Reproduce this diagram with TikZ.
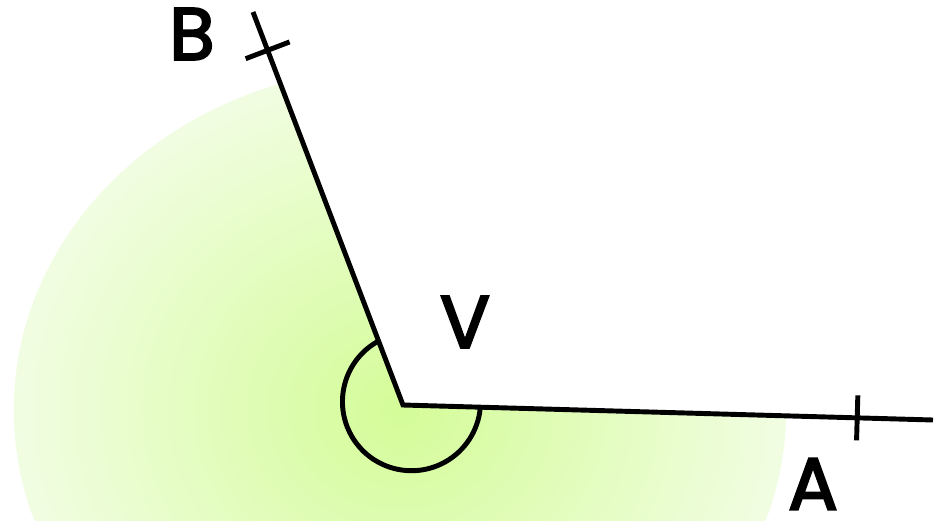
\documentclass[tikz,border=0pt]{standalone}
\usepackage{fontspec}
\setmainfont{Poppins}
\usepackage{tikz}
\usetikzlibrary{calc}
\definecolor{gCore}{RGB}{212,252,152}
\definecolor{gRim}{RGB}{241,253,226}
\colorlet{cRay}{black}
\tikzset{
	rayLine/.style={draw=cRay,line width=1.4pt},
	tickMark/.style={draw=cRay,line width=1.4pt},
	ptLabel/.style={font=\fontsize{21}{21}\selectfont\addfontfeature{FakeBold=3},inner sep=0pt}
}
\begin{document}
\begin{tikzpicture}[x=0.01cm,y=0.01cm]
			\useasboundingbox (0,0) rectangle (938,520);
			% points of the angle
			\coordinate (V) at (403,115);
			\coordinate (A) at (933,100);
			\coordinate (B) at (253,508);
			\coordinate (shadeC) at (400,110);
			% shaded reflex sector
			\begin{scope}
				\clip (V) -- ($(V)!1.5!(B)$) -- (-300,700) -- (-300,-400)
					-- (1300,-400) -- ($(V)!1.8!(A)$) -- cycle;
				\shade[inner color=gCore,outer color=gRim]
					(shadeC) ellipse[x radius=3.86cm,y radius=3.43cm];
			\end{scope}
			% rays
			\draw[rayLine] (B) -- (V) -- (A);
			% ticks on the rays
			\coordinate (tickA) at ($(V)!0.857!(A)$);
			\coordinate (tickB) at ($(V)!0.9025!(B)$);
			\draw[tickMark] ($(tickA)!0.225cm!90:(A)$) -- ($(tickA)!0.225cm!-90:(A)$);
			\draw[tickMark] ($(tickB)!0.235cm!90:(B)$) -- ($(tickB)!0.235cm!-90:(B)$);
			% angle mark
			\coordinate (arcS) at (377.3,178.3);
			\draw[line width=1.4pt] (arcS) arc[start angle=119.7,end angle=354.4,radius=0.69cm];
			% labels
			\node[ptLabel] (labB) at (192,486) {B};
			\node[ptLabel] (labV) at (465,198) {V};
			\node[ptLabel] (labA) at (813,36) {A};
		\end{tikzpicture}
\end{document}
